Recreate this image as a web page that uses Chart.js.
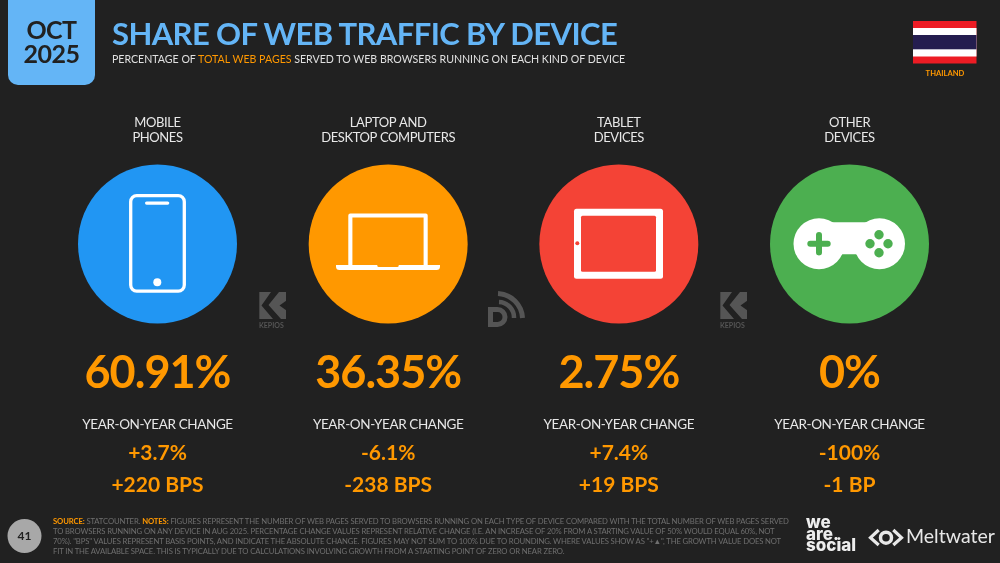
<!DOCTYPE html>
<html>
<head>
<meta charset="utf-8">
<script src="https://cdn.jsdelivr.net/npm/chart.js@4"></script>
<style>
  html, body { margin: 0; padding: 0; background: #212121; }
  #page { position: relative; width: 1000px; height: 563px; overflow: hidden; font-family: Lato, sans-serif; }
  #page canvas, #page svg { position: absolute; left: 0; top: 0; }
  .txt { position: absolute; white-space: nowrap; }
  .orange { color: #FF9800; }
  #title { left: 112px; top: 13px; font-size: 31px; font-weight: 700; letter-spacing: -0.6px; color: #64B5F6; line-height: 40px; }
  #subtitle { left: 112px; top: 52px; font-size: 10.6px; color: #e0e0e0; line-height: 14px; }
  #date { left: 8px; top: 17px; width: 87px; text-align: center; font-size: 25px; font-weight: 700; letter-spacing: -0.5px; color: #212121; line-height: 24px; }
  #country { left: 905px; width: 80px; top: 68px; text-align: center; font-size: 7.6px; font-weight: 700; color: #FF9800; line-height: 10px; }
  #notes { left: 53px; top: 516px; font-size: 7.7px; letter-spacing: -0.13px; line-height: 10.1px; color: #6f6f6f; }
  #notes b { color: #FF9800; }
  #pageno { left: 8px; top: 527px; width: 33px; text-align: center; font-size: 12px; font-weight: 700; color: #212121; line-height: 18px; }
  #was { left: 806px; top: 517px; font-size: 17px; font-weight: 800; color: #eee; line-height: 11.6px; font-family: Inter, sans-serif; }
  #melt { left: 906px; top: 524px; font-size: 19.5px; color: #e8e8e8; line-height: 24px; }
  .kep { font-size: 7px; font-weight: 700; color: #555; line-height: 8px; }
</style>
</head>
<body>
<div id="page">
  <canvas id="chart" width="1000" height="563"></canvas>
  <svg width="1000" height="563" viewBox="0 0 1000 563">
    <path d="M8 0H95V75a10 10 0 0 1-10 10H18a10 10 0 0 1-10-10Z" fill="#64B5F6"/>
    <!-- flag -->
    <rect x="913" y="21" width="63.5" height="42.5" fill="#ED1C24"/>
    <rect x="913" y="28" width="63.5" height="28.5" fill="#fff"/>
    <rect x="913" y="35" width="63.5" height="14.3" fill="#241D4F"/>
    <!-- phone -->
    <rect x="130.7" y="195.7" width="53.6" height="95.4" rx="6" fill="none" stroke="#fff" stroke-width="3.3"/>
    <rect x="145" y="201.5" width="24.3" height="3.2" rx="1.6" fill="#fff"/>
    <circle cx="157.3" cy="282.3" r="4" fill="#fff"/>
    <!-- laptop -->
    <path d="M348.3 266V215.5a2 2 0 0 1 2-2H425.7a2 2 0 0 1 2 2V266H423.6V217.6H352.4V266Z" fill="#fff"/>
    <path d="M336 265H440V266.5a3.5 3.5 0 0 1-3.5 3.5H339.5a3.5 3.5 0 0 1-3.5-3.5Z" fill="#fff"/>
    <path d="M377.3 265H398.7V265.5a1.5 1.5 0 0 1-1.5 1.5H378.8a1.5 1.5 0 0 1-1.5-1.5Z" fill="#FF9800"/>
    <!-- tablet -->
    <rect x="574" y="208.7" width="89" height="70" rx="2.5" fill="#fff"/>
    <rect x="581" y="215.7" width="75" height="56" rx="1.5" fill="#F44336"/>
    <circle cx="577.3" cy="243.3" r="2" fill="#F44336"/>
    <!-- gamepad -->
    <circle cx="819" cy="243.7" r="25.5" fill="#fff"/>
    <circle cx="879.5" cy="243.7" r="25.5" fill="#fff"/>
    <path d="M819 222.3H879.5V254.3H819Z" fill="#fff"/>
    <path d="M819 235V252.4M810.3 243.7H827.7" stroke="#4CAF50" stroke-width="6" stroke-linecap="round"/>
    <g fill="#4CAF50">
      <circle cx="879" cy="234.7" r="4.7"/><circle cx="879" cy="252.7" r="4.7"/>
      <circle cx="870" cy="243.7" r="4.7"/><circle cx="888" cy="243.7" r="4.7"/>
    </g>
    <!-- kepios marks -->
    <g id="kmark">
      <rect x="259.3" y="292" width="26.7" height="27" fill="#555"/>
      <path d="M271 292H279L268.5 305L281 319H273L261.5 305.5Z" fill="#212121"/>
      <path d="M286.5 300.5L279.5 305.5L286.5 310.5Z" fill="#212121"/>
    </g>
    <use href="#kmark" x="461"/>
    <!-- datareportal mark -->
    <g fill="none" stroke="#555">
      <path d="M498 293.5A26 26 0 0 1 522.5 318" stroke-width="5"/>
      <path d="M499 302A15.5 15.5 0 0 1 514 318" stroke-width="4.5"/>
      <path d="M490.5 309.5H497.5A7.5 7.5 0 0 1 497.5 324.5H490.5Z" stroke-width="5"/>
    </g>
    <!-- page number -->
    <circle cx="24.5" cy="536" r="17" fill="#A8A8A8"/>
    <!-- meltwater mark -->
    <g fill="none" stroke="#e8e8e8" stroke-width="3.2">
      <path d="M878.7 530L870.5 537.7L878.7 545"/>
      <path d="M893.3 530L901.5 537.7L893.3 545"/>
      <circle cx="886" cy="537.7" r="5.5" stroke-width="3.5"/>
    </g>
  </svg>

  <div class="txt" id="date">OCT<br>2025</div>
  <div class="txt" id="title">SHARE OF WEB TRAFFIC BY DEVICE</div>
  <div class="txt" id="subtitle">PERCENTAGE OF <span class="orange">TOTAL WEB PAGES</span> SERVED TO WEB BROWSERS RUNNING ON EACH KIND OF DEVICE</div>
  <div class="txt" id="country">THAILAND</div>
  <div class="txt kep" style="left:259px;top:321px">KEPIOS</div>
  <div class="txt kep" style="left:720px;top:321px">KEPIOS</div>
  <div class="txt" id="notes"><b>SOURCE:</b> STATCOUNTER. <b>NOTES:</b> FIGURES REPRESENT THE NUMBER OF WEB PAGES SERVED TO BROWSERS RUNNING ON EACH TYPE OF DEVICE COMPARED WITH THE TOTAL NUMBER OF WEB PAGES SERVED<br>TO BROWSERS RUNNING ON ANY DEVICE IN AUG 2025. PERCENTAGE CHANGE VALUES REPRESENT RELATIVE CHANGE (I.E. AN INCREASE OF 20% FROM A STARTING VALUE OF 50% WOULD EQUAL 60%, NOT<br>70%). "BPS" VALUES REPRESENT BASIS POINTS, AND INDICATE THE ABSOLUTE CHANGE. FIGURES MAY NOT SUM TO 100% DUE TO ROUNDING. WHERE VALUES SHOW AS "+▲", THE GROWTH VALUE DOES NOT<br>FIT IN THE AVAILABLE SPACE. THIS IS TYPICALLY DUE TO CALCULATIONS INVOLVING GROWTH FROM A STARTING POINT OF ZERO OR NEAR ZERO.</div>
  <div class="txt" id="pageno">41</div>
  <div class="txt" id="was">we<br>are.<br>social</div>
  <div class="txt" id="melt">Meltwater</div>
</div>

<script>
const categories = [["MOBILE", "PHONES"], ["LAPTOP AND", "DESKTOP COMPUTERS"], ["TABLET", "DEVICES"], ["OTHER", "DEVICES"]];
const shareValues = ["60.91%", "36.35%", "2.75%", "0%"];
const yoyPercent = ["+3.7%", "-6.1%", "+7.4%", "-100%"];
const yoyBps = ["+220 BPS", "-238 BPS", "+19 BPS", "-1 BP"];
const circleColours = ["#2196F3", "#FF9800", "#F44336", "#4CAF50"];

const orange = "#FF9800";
const fontFamily = "Lato, sans-serif";

// value rows under each circle, placed from the x scale
const valueRows = {
  id: "valueRows",
  beforeDraw(chart) {
    // tick labels pick this up, the reference face is narrower than Lato
    chart.ctx.letterSpacing = "-0.4px";
  },
  afterDraw(chart) {
    const { ctx, scales } = chart;
    ctx.save();
    ctx.textAlign = "center";
    ctx.textBaseline = "middle";
    categories.forEach((cat, i) => {
      const x = scales.x.getPixelForValue(i);
      ctx.fillStyle = orange;
      ctx.font = "700 45px " + fontFamily;
      ctx.letterSpacing = "-1px";
      ctx.fillText(shareValues[i], x, 373);
      ctx.fillStyle = "#e8e8e8";
      ctx.font = "400 13.5px " + fontFamily;
      ctx.letterSpacing = "-0.38px";
      ctx.fillText("YEAR-ON-YEAR CHANGE", x, 425);
      ctx.fillStyle = orange;
      ctx.font = "700 21px " + fontFamily;
      ctx.letterSpacing = "0px";
      ctx.fillText(yoyPercent[i], x, 453);
      ctx.fillText(yoyBps[i], x, 485);
    });
    ctx.restore();
  },
};

new Chart(document.getElementById("chart").getContext("2d"), {
  type: "scatter",
  data: {
    labels: categories,
    datasets: [
      {
        data: categories.map((c, i) => ({ x: i, y: 1 })),
        backgroundColor: circleColours,
        borderWidth: 0,
        pointRadius: 79.5,
        pointHoverRadius: 79.5,
        clip: false,
      },
    ],
  },
  options: {
    responsive: false,
    animation: false,
    devicePixelRatio: 1,
    layout: { autoPadding: false, padding: { left: 42.17, right: 35.17, top: 107.5, bottom: 230 } },
    plugins: { legend: { display: false }, tooltip: { enabled: false } },
    scales: {
      x: {
        type: "category",
        position: "top",
        offset: true,
        grid: { display: false },
        border: { display: false },
        afterFit(scale) { scale.height = 47.5; },
        ticks: {
          color: "#e8e8e8",
          maxRotation: 0,
          autoSkip: false,
          padding: 1,
          font: { family: fontFamily, size: 13 },
        },
      },
      y: { display: false, min: 0, max: 2 },
    },
  },
  plugins: [valueRows],
});
</script>
</body>
</html>
